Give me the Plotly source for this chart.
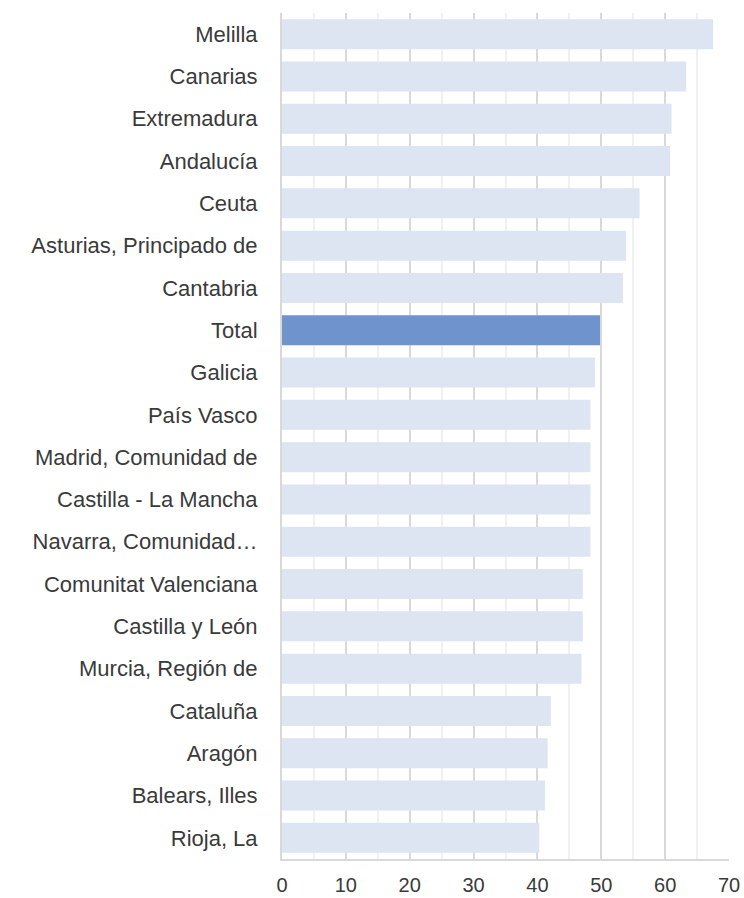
import plotly.graph_objects as go

categories = ["Melilla", "Canarias", "Extremadura", "Andalucía", "Ceuta",
              "Asturias, Principado de", "Cantabria", "Total", "Galicia",
              "País Vasco", "Madrid, Comunidad de", "Castilla - La Mancha",
              "Navarra, Comunidad…", "Comunitat Valenciana", "Castilla y León",
              "Murcia, Región de", "Cataluña", "Aragón", "Balears, Illes", "Rioja, La"]
values = [67.5, 63.3, 61.0, 60.8, 56.0, 53.9, 53.4, 49.8, 49.0, 48.3,
          48.3, 48.3, 48.3, 47.1, 47.1, 46.9, 42.1, 41.6, 41.2, 40.3]
highlight = "Total"

light = "#DDE5F2"
dark = "#6F93CD"
colors = [dark if c == highlight else light for c in categories]

fig = go.Figure(go.Bar(
    x=values, y=categories, orientation="h",
    marker=dict(color=colors, line=dict(width=0)),
    hoverinfo="x+y",
))

fig.update_layout(
    width=744, height=898,
    margin=dict(l=282, r=15, t=13, b=39, autoexpand=False),
    paper_bgcolor="white", plot_bgcolor="white",
    bargap=0.29,
    showlegend=False,
    font=dict(family="Liberation Sans, Arial, sans-serif", size=22, color="#3A3A3A"),
)
fig.update_xaxes(
    range=[0, 70], dtick=10, tick0=0,
    showgrid=True, gridcolor="#D9D9D9", gridwidth=2,
    minor=dict(dtick=5, showgrid=True, gridcolor="#F0F0F0", gridwidth=2),
    showline=True, linecolor="#D9D9D9", linewidth=2,
    zeroline=False, ticks="", ticklabelstandoff=7,
    tickfont=dict(size=20, color="#3A3A3A"),
    automargin=False, fixedrange=True,
)
fig.update_yaxes(
    autorange="reversed",
    showline=True, linecolor="#D9D9D9", linewidth=2,
    showgrid=False, ticks="", ticklabelstandoff=18,
    tickfont=dict(size=22, color="#3A3A3A"),
    automargin=False, fixedrange=True,
)

fig.write_html(
    "out.html",
    config={"displayModeBar": False},
    post_script="document.body.style.margin='0';document.body.style.overflow='hidden';",
)
